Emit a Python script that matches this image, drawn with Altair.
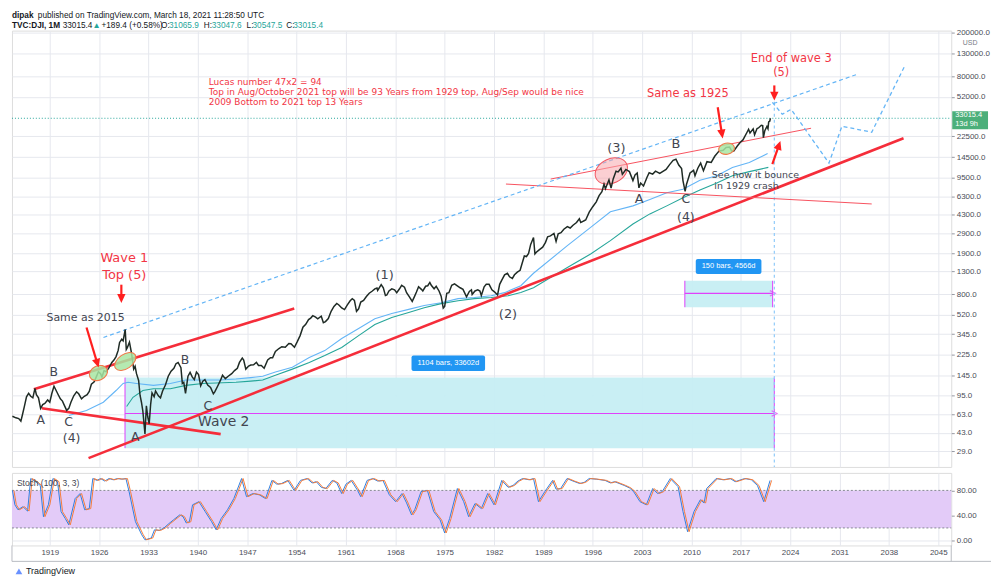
import altair as alt
import pandas as pd

# ---------------- values ----------------
# monthly DJI (year, price) – approximate closes / swing extremes
dji = [
    (1913.7, 61), (1914.2, 59), (1914.6, 58), (1914.9, 55), (1915.1, 62), (1915.4, 75), (1915.7, 92),
    (1916.0, 99), (1916.3, 93), (1916.6, 90), (1916.9, 110), (1917.1, 96), (1917.4, 90), (1917.7, 72),
    (1918.0, 78), (1918.3, 80), (1918.7, 86), (1919.0, 82), (1919.3, 99), (1919.6, 115), (1919.9, 105),
    (1920.2, 96), (1920.5, 88), (1920.8, 84), (1921.1, 76), (1921.4, 69), (1921.7, 72), (1922.0, 82),
    (1922.4, 94), (1922.8, 102), (1923.1, 98), (1923.5, 88), (1923.9, 93), (1924.3, 96), (1924.6, 103),
    (1924.9, 120), (1925.3, 126), (1925.6, 140), (1925.9, 156), (1926.2, 150), (1926.4, 140), (1926.7, 160),
    (1927.0, 156), (1927.4, 170), (1927.8, 190), (1928.1, 200), (1928.4, 215), (1928.7, 245), (1928.9, 290),
    (1929.2, 310), (1929.4, 300), (1929.7, 381), (1929.85, 250), (1930.0, 260), (1930.3, 291), (1930.6, 230),
    (1930.9, 165), (1931.1, 175), (1931.3, 150), (1931.6, 130), (1931.8, 95), (1932.0, 82), (1932.2, 68),
    (1932.5, 42), (1932.7, 76), (1932.9, 60), (1933.1, 52), (1933.3, 78), (1933.5, 100), (1933.8, 92),
    (1934.0, 104), (1934.4, 94), (1934.7, 90), (1935.0, 104), (1935.4, 118), (1935.8, 142), (1936.2, 158),
    (1936.6, 168), (1936.9, 185), (1937.2, 190), (1937.6, 170), (1937.8, 122), (1938.0, 125), (1938.25, 99),
    (1938.6, 142), (1938.9, 154), (1939.2, 140), (1939.5, 132), (1939.8, 155), (1940.1, 147), (1940.4, 116),
    (1940.7, 128), (1941.0, 132), (1941.4, 118), (1941.8, 112), (1942.2, 98), (1942.4, 102), (1942.8, 115),
    (1943.2, 130), (1943.5, 145), (1943.9, 135), (1944.3, 142), (1944.8, 150), (1945.2, 160), (1945.6, 168),
    (1945.9, 190), (1946.3, 208), (1946.5, 200), (1946.8, 165), (1947.2, 176), (1947.5, 180), (1947.9, 181),
    (1948.3, 190), (1948.6, 178), (1949.0, 178), (1949.4, 168), (1949.9, 200), (1950.3, 210), (1950.6, 210),
    (1951.0, 240), (1951.5, 255), (1951.9, 265), (1952.4, 262), (1952.9, 283), (1953.2, 282), (1953.7, 262),
    (1954.1, 295), (1954.5, 335), (1954.9, 400), (1955.3, 425), (1955.7, 470), (1956.0, 485), (1956.3, 510),
    (1956.7, 495), (1957.0, 478), (1957.5, 505), (1957.8, 440), (1958.1, 450), (1958.5, 480), (1958.9, 560),
    (1959.3, 620), (1959.7, 660), (1960.0, 640), (1960.4, 600), (1960.8, 580), (1961.2, 640), (1961.6, 700),
    (1961.9, 730), (1962.2, 705), (1962.5, 560), (1962.8, 590), (1963.1, 680), (1963.5, 705), (1963.9, 765),
    (1964.3, 820), (1964.7, 855), (1965.1, 900), (1965.4, 915), (1965.5, 870), (1966.0, 985), (1966.3, 920),
    (1966.6, 780), (1966.8, 790), (1967.1, 860), (1967.5, 900), (1967.9, 880), (1968.2, 830), (1968.6, 900),
    (1968.9, 970), (1969.3, 930), (1969.6, 830), (1970.0, 760), (1970.4, 690), (1970.7, 760), (1971.0, 840),
    (1971.3, 940), (1971.7, 890), (1971.9, 860), (1972.3, 950), (1972.6, 960), (1972.9, 1030), (1973.1, 970),
    (1973.5, 900), (1973.8, 950), (1974.2, 860), (1974.5, 770), (1974.8, 600), (1975.0, 620), (1975.3, 820),
    (1975.6, 830), (1976.0, 970), (1976.4, 1000), (1976.8, 960), (1977.2, 920), (1977.6, 890), (1978.1, 760),
    (1978.5, 850), (1978.8, 880), (1978.9, 800), (1979.3, 860), (1979.7, 880), (1980.0, 860), (1980.2, 780),
    (1980.6, 940), (1980.9, 990), (1981.3, 990), (1981.7, 880), (1982.1, 840), (1982.5, 790), (1982.8, 990),
    (1983.1, 1080), (1983.5, 1210), (1983.9, 1250), (1984.2, 1160), (1984.6, 1120), (1984.9, 1210),
    (1985.3, 1280), (1985.7, 1330), (1986.0, 1550), (1986.3, 1800), (1986.6, 1780), (1986.9, 1900),
    (1987.2, 2300), (1987.6, 2660), (1987.8, 1880), (1988.0, 1950), (1988.4, 2050), (1988.9, 2170),
    (1989.3, 2400), (1989.6, 2700), (1990.0, 2750), (1990.5, 2900), (1990.8, 2450), (1991.1, 2880),
    (1991.5, 2950), (1991.9, 3170), (1992.4, 3350), (1992.8, 3250), (1993.2, 3450), (1993.7, 3650),
    (1994.1, 3950), (1994.3, 3650), (1994.9, 3830), (1995.0, 3850), (1995.5, 4550), (1996.0, 5100),
    (1996.5, 5650), (1996.9, 6450), (1997.3, 7000), (1997.6, 8200), (1997.8, 7450), (1998.3, 9000),
    (1998.6, 7550), (1998.9, 9180), (1999.3, 10800), (1999.6, 10650), (2000.0, 11500), (2000.2, 10100),
    (2000.7, 11200), (2001.2, 10700), (2001.7, 8850), (2002.0, 10000), (2002.3, 10400), (2002.55, 7600),
    (2002.8, 8400), (2003.2, 7900), (2003.7, 9500), (2004.0, 10450), (2004.5, 10150), (2004.9, 10800),
    (2005.5, 10300), (2005.9, 10700), (2006.4, 11200), (2006.9, 12400), (2007.4, 13600), (2007.8, 13900),
    (2008.2, 12300), (2008.6, 11400), (2008.8, 8800), (2009.1, 7062), (2009.3, 8200), (2009.8, 10400),
    (2010.3, 11000), (2010.5, 9800), (2010.9, 11500), (2011.3, 12800), (2011.7, 10900), (2012.2, 13200),
    (2012.8, 13000), (2013.3, 14800), (2013.9, 16500), (2014.5, 16800), (2014.9, 17800), (2015.4, 18000),
    (2015.7, 16500), (2016.0, 16500), (2016.5, 18400), (2016.9, 19800), (2017.3, 20900), (2017.9, 24700),
    (2018.1, 26150), (2018.3, 24200), (2018.75, 26400), (2018.95, 23300), (2019.3, 26600), (2019.5, 26900),
    (2019.9, 28500), (2020.1, 28250), (2020.2, 21900), (2020.4, 25400), (2020.7, 27800), (2020.85, 26500),
    (2020.95, 30600), (2021.1, 31000), (2021.2, 33015),
]

# the two long moving averages (blue, green)
ma_blue = [
    (1921.7, 62), (1924.2, 69), (1926.6, 82), (1928.4, 105), (1929.4, 122), (1930.1, 125), (1931.3, 122),
    (1933.7, 117), (1936.1, 122), (1938.3, 131), (1940.7, 131), (1943.1, 131), (1945.4, 134), (1947.5, 138),
    (1949.2, 142), (1951.0, 155), (1953.4, 172), (1955.8, 211), (1958.0, 244), (1960.4, 315), (1962.8, 389),
    (1965.1, 479), (1967.5, 534), (1969.9, 583), (1972.1, 632), (1974.5, 670), (1976.9, 732), (1979.2, 749),
    (1981.6, 777), (1983.5, 830), (1985.8, 960), (1987.6, 1250), (1992.4, 2240), (1995.7, 3300),
    (1998.5, 4580), (2001.7, 5190), (2004.1, 5940), (2006.5, 6850), (2008.8, 7380), (2011.2, 8900),
    (2013.6, 9800), (2015.8, 11650), (2018.2, 12950), (2020.8, 15700),
]
ma_green = [
    (1929.9, 75), (1930.8, 91), (1932.2, 105), (1933.7, 109), (1936.1, 109), (1938.3, 117), (1940.7, 122),
    (1945.4, 125), (1947.5, 128), (1949.2, 131), (1951.0, 145), (1953.4, 165), (1955.8, 190), (1958.0, 220),
    (1960.4, 261), (1962.8, 335), (1965.1, 423), (1967.5, 492), (1969.9, 546), (1972.1, 603), (1974.5, 658),
    (1976.9, 700), (1979.2, 732), (1981.6, 749), (1984.0, 777), (1985.8, 833), (1987.6, 920), (1992.4, 1410),
    (1995.7, 1880), (1998.5, 2490), (2001.7, 3540), (2004.1, 4380), (2006.5, 5190), (2008.8, 6160),
    (2011.2, 7250), (2013.6, 8430), (2015.8, 9800), (2018.2, 10700), (2020.9, 11700),
]

# Stoch (100, 3, 3)
stoch = [
    (1913.7, 80), (1914.05, 57), (1914.5, 49), (1915.2, 54), (1915.85, 47), (1916.3, 99), (1917.0, 94),
    (1917.65, 88), (1918.1, 38), (1918.8, 57), (1919.45, 99), (1920.1, 94), (1920.6, 46), (1921.2, 35),
    (1921.7, 25), (1922.6, 67), (1923.3, 75), (1923.95, 49), (1924.6, 51), (1925.1, 99), (1925.7, 96),
    (1926.2, 99), (1926.8, 95), (1927.4, 99), (1928.0, 97), (1928.6, 99), (1929.2, 98), (1929.8, 99),
    (1930.25, 78), (1931.15, 30), (1932.05, 9), (1932.5, 1), (1933.4, 4), (1933.85, 17), (1934.5, 16),
    (1935.2, 20), (1935.9, 27), (1936.55, 33), (1937.45, 41), (1937.9, 38), (1938.35, 28), (1938.8, 30),
    (1939.25, 57), (1940.15, 62), (1941.05, 46), (1941.95, 30), (1942.6, 17), (1943.3, 35), (1944.2, 49),
    (1945.1, 67), (1946.2, 99), (1946.9, 70), (1947.8, 75), (1948.7, 73), (1949.6, 67), (1950.5, 96),
    (1951.2, 90), (1951.85, 91), (1952.75, 96), (1953.65, 80), (1954.55, 96), (1955.5, 99), (1956.2, 92),
    (1956.8, 94), (1957.5, 85), (1958.15, 83), (1959.05, 96), (1959.7, 92), (1960.4, 75), (1961.0, 90),
    (1961.75, 96), (1962.65, 80), (1963.1, 70), (1964.0, 96), (1964.8, 99), (1965.5, 95), (1966.25, 96),
    (1967.15, 73), (1968.05, 62), (1968.95, 75), (1969.6, 60), (1970.3, 41), (1970.75, 49), (1971.65, 78),
    (1972.55, 80), (1973.45, 46), (1974.35, 33), (1975.0, 12), (1975.7, 35), (1976.8, 83), (1977.7, 62),
    (1978.4, 38), (1979.3, 59), (1980.2, 51), (1981.1, 75), (1982.0, 57), (1983.1, 96), (1984.0, 85),
    (1984.7, 88), (1985.4, 95), (1986.05, 99), (1987.0, 97), (1987.6, 99), (1988.3, 62), (1989.2, 78),
    (1990.3, 96), (1990.8, 82), (1991.45, 83), (1992.35, 99), (1993.2, 95), (1994.15, 91), (1994.8, 93),
    (1995.5, 99), (1996.5, 98), (1997.75, 96), (1998.5, 92), (1999.1, 94), (2000.45, 88), (2001.2, 84),
    (2001.8, 78), (2002.7, 62), (2003.6, 57), (2004.5, 83), (2005.2, 75), (2005.85, 78), (2007.0, 99),
    (2008.1, 86), (2008.8, 46), (2009.45, 14), (2010.35, 46), (2011.25, 65), (2011.8, 60), (2012.15, 83),
    (2013.5, 99), (2014.5, 97), (2015.5, 99), (2016.2, 94), (2017.55, 99), (2018.5, 97), (2019.35, 88),
    (2020.25, 62), (2021.15, 96),
]

year_ticks = list(range(1919, 2046, 7))
price_ticks = [29, 43, 63, 95, 145, 225, 345, 520, 800, 1300, 1900, 2900, 4300, 6300, 9500,
               14500, 22500, 52000, 80000, 130000, 200000]
stoch_ticks = [0, 40, 80]
last_price = 33015.4

# drawings (year, price) pairs
thick_red = [(1924.50, 25.2, 2040.07, 21675), (1916.74, 107.8, 1953.67, 592.8), (1917.87, 72.2, 1943.24, 41.8)]
thin_red = [(1990.04, 9148, 2026.96, 26750), (1983.69, 8230, 2035.56, 5403)]
blue_dash = [(1926.61, 322, 2033.45, 83370)]
projection = [(2021.47, 46260), (2022.88, 35940), (2024.14, 39900), (2029.50, 12810),
              (2031.33, 27900), (2035.56, 24580), (2040.35, 102900)]
ranges = [(1929.67, 2021.75, 31.1, 138.0, 64.6), (2009.06, 2021.51, 610, 1067, 818)]
range_boxes = [(1970.30, 1980.73, 158.7, 220.4, 1975.52, 186.2, "1104 bars, 33602d"),
               (2010.61, 2019.92, 1229, 1686, 2015.26, 1442, "150 bars, 4566d")]
ellipses = [(1925.9, 152, 19, 0.75, 335, "g"), (1929.71, 194, 24, 0.6, 325, "g"),
            (2014.98, 17370, 16, 0.7, 350, "g"), (1998.63, 10850, 34, 0.72, 335, "r")]
arrows = [(1929.15, 982, 1929.15, 745, 180), (1924.21, 397.6, 1925.71, 189.4, 163),
          (2013.72, 41690, 2014.31, 24030, 171), (2021.75, 66100, 2021.75, 53570, 180),
          (2021.47, 12540, 2022.37, 18430, 19)]
labels_center = [
    ("Wave 1", 1929.57, 1734, "#f23645", 13), ("Top (5)", 1929.57, 1212, "#f23645", 13),
    ("Same as 2015", 1924.07, 490, "#434651", 11), ("B", 1919.56, 154, "#434651", 12.5),
    ("A", 1917.73, 56.1, "#434651", 12.5), ("C", 1921.68, 54.0, "#434651", 12.5),
    ("(4)", 1922.10, 38.8, "#434651", 12.5), ("A", 1931.12, 39.2, "#434651", 12.5),
    ("B", 1938.17, 198.4, "#434651", 12.5), ("C", 1941.41, 75.4, "#434651", 12.5),
    ("Wave 2", 1943.67, 53.8, "#434651", 14), ("(1)", 1966.5, 1212, "#434651", 13),
    ("(2)", 1983.98, 533, "#434651", 13), ("(3)", 1999.34, 17560, "#434651", 13),
    ("B", 2007.8, 19100, "#434651", 13), ("A", 2002.58, 6000, "#434651", 13),
    ("C", 2009.2, 5950, "#434651", 12.5), ("(4)", 2009.2, 4100, "#434651", 12.5),
    ("Same as 1925", 2009.49, 54700, "#f23645", 11.5), ("End of wave 3", 2024.14, 114300, "#f23645", 11.5),
    ("(5)", 2022.73, 85100, "#f23645", 11.5), ("See how it bounce", 2019.07, 9950, "#434651", 9.5),
    ("in 1929 crash", 2017.80, 7890, "#434651", 9.5),
]
labels_left = [
    ("Lucas number 47x2 = 94", 1941.55, 70450),
    ("Top in Aug/October 2021 top will be 93 Years from 1929 top, Aug/Sep would be nice", 1941.55, 57070),
    ("2009 Bottom to 2021 top 13 Years", 1941.55, 46250),
]

# ---------------- chart ----------------
W, H_MAIN, H_STOCH = 945, 439, 73
xs = alt.Scale(domain=[1913.64, 2046.84], nice=False, zero=False)
ys = alt.Scale(type="log", domain=[20.9, 210400], nice=False)
ss = alt.Scale(domain=[-8, 108], nice=False, zero=False)
GRID = "#e6e8ee"
RED = "#f52d3a"
AXC = "#4a4d57"

grid_axis_x = alt.Axis(values=year_ticks, labels=False, ticks=False, domain=False, grid=True,
                       gridColor=GRID, title=None)
price_axis = alt.Axis(orient="right", values=price_ticks, format=".1f", grid=True, gridColor=GRID,
                      tickSize=3, tickColor="#9598a1", labelFontSize=8, labelFont="Liberation Sans",
                      labelColor=AXC, labelPadding=2, domain=False, title=None)
stoch_x_axis = alt.Axis(values=year_ticks, format="d", grid=True, gridColor=GRID, ticks=False, domain=False,
                        labelFontSize=8, labelFont="Liberation Sans", labelColor=AXC, labelPadding=3,
                        title=None)
stoch_y_axis = alt.Axis(orient="right", values=stoch_ticks, format=".2f", grid=True, gridColor=GRID,
                        tickSize=3, tickColor="#9598a1", labelFontSize=8, labelFont="Liberation Sans",
                        labelColor=AXC, labelPadding=2, domain=False, title=None)

df_dji = pd.DataFrame(dji, columns=["year", "price"])
df_blue = pd.DataFrame(ma_blue, columns=["year", "price"])
df_green = pd.DataFrame(ma_green, columns=["year", "price"])
df_st = pd.DataFrame(stoch, columns=["year", "k"])


def seg_df(rows):
    return pd.DataFrame(rows, columns=["x1", "y1", "x2", "y2"])


def X(f="x1"):
    return alt.X(f"{f}:Q", scale=xs, axis=grid_axis_x)


def Y(f="y1"):
    return alt.Y(f"{f}:Q", scale=ys, axis=price_axis)


rng = pd.DataFrame(ranges, columns=["x1", "x2", "y1", "y2", "ya"])
rect_layer = alt.Chart(rng).mark_rect(color="#c6eef3", opacity=0.95).encode(
    x=X("x1"), x2="x2", y=Y("y1"), y2="y2")
mag_v1 = alt.Chart(rng).mark_rule(color="#e040fb", strokeWidth=1).encode(x=X("x1"), y=Y("y1"), y2="y2")
mag_v2 = alt.Chart(rng).mark_rule(color="#e040fb", strokeWidth=1).encode(x=X("x2"), y=Y("y1"), y2="y2")
mag_h = alt.Chart(rng).mark_rule(color="#e040fb", strokeWidth=1.2).encode(x=X("x1"), x2="x2", y=Y("ya"))
mag_head = alt.Chart(rng).mark_point(shape="M-1,-1L1,0L-1,1", size=30, color="#e040fb",
                                     strokeWidth=1.2, filled=False).encode(x=X("x2"), y=Y("ya"))

vdash = alt.Chart(pd.DataFrame({"x1": [2021.75], "y1": [46800], "y2": [20.9]})).mark_rule(
    color="#90caf9", strokeDash=[3, 3], strokeWidth=1.2).encode(x=X("x1"), y=Y("y1"), y2="y2")
hdot = alt.Chart(pd.DataFrame({"y1": [last_price]})).mark_rule(
    color="#26a69a", strokeDash=[1, 2], strokeWidth=1).encode(x=alt.value(0), x2=alt.value(W), y=Y("y1"))

blue_line = alt.Chart(df_blue).mark_line(color="#64b5f6", strokeWidth=1.1).encode(x=X("year"), y=Y("price"))
green_line = alt.Chart(df_green).mark_line(color="#26a69a", strokeWidth=1.1).encode(x=X("year"), y=Y("price"))
price_line = alt.Chart(df_dji).mark_line(color="#1f2b25", strokeWidth=1.5).encode(x=X("year"), y=Y("price"))

thick = alt.Chart(seg_df(thick_red)).mark_rule(color=RED, strokeWidth=2.6).encode(
    x=X("x1"), y=Y("y1"), x2="x2", y2="y2")
thin = alt.Chart(seg_df(thin_red)).mark_rule(color="#f7525f", strokeWidth=1).encode(
    x=X("x1"), y=Y("y1"), x2="x2", y2="y2")
bdash = alt.Chart(seg_df(blue_dash)).mark_rule(color="#64b5f6", strokeWidth=1.2, strokeDash=[4, 3]).encode(
    x=X("x1"), y=Y("y1"), x2="x2", y2="y2")
proj = alt.Chart(pd.DataFrame(projection, columns=["year", "price"]).assign(o=range(len(projection)))).mark_line(
    color="#64b5f6", strokeWidth=1.3, strokeDash=[4, 3]).encode(x=X("year"), y=Y("price"), order="o:Q")

ell = pd.DataFrame(ellipses, columns=["x1", "y1", "w", "r", "ang", "kind"])
ell["shape"] = ell["r"].map(lambda r: f"M-1,0A1,{r} 0 1,0 1,0A1,{r} 0 1,0 -1,0Z")
ell["size"] = (ell["w"] / 2) ** 2 * 4
ell_g = alt.Chart(ell[ell.kind == "g"]).mark_point(filled=True, fill="#a8e6a3", fillOpacity=0.85,
                                                  stroke="#f2794a", strokeWidth=1.1).encode(
    x=X("x1"), y=Y("y1"), shape=alt.Shape("shape:N", scale=None), size=alt.Size("size:Q", scale=None),
    angle=alt.Angle("ang:Q", scale=None))
ell_r = alt.Chart(ell[ell.kind == "r"]).mark_point(filled=True, fill="#f7a8ad", fillOpacity=0.55,
                                                  stroke="#f2545f", strokeWidth=1).encode(
    x=X("x1"), y=Y("y1"), shape=alt.Shape("shape:N", scale=None), size=alt.Size("size:Q", scale=None),
    angle=alt.Angle("ang:Q", scale=None))

arr = pd.DataFrame(arrows, columns=["x1", "y1", "x2", "y2", "ang"])
arr_shaft = alt.Chart(arr).mark_rule(color="#ff1f1f", strokeWidth=2.2).encode(
    x=X("x1"), y=Y("y1"), x2="x2", y2="y2")
arr_head = alt.Chart(arr).mark_point(shape="M0,-1L0.8,0.7L-0.8,0.7Z", size=110, filled=True,
                                     color="#ff1f1f", opacity=1).encode(
    x=X("x2"), y=Y("y2"), angle=alt.Angle("ang:Q", scale=None))

box = pd.DataFrame(range_boxes, columns=["x1", "x2", "y1", "y2", "tx", "ty", "t"])
box_rect = alt.Chart(box).mark_rect(color="#2196f3", cornerRadius=2).encode(x=X("x1"), x2="x2", y=Y("y1"), y2="y2")
box_text = alt.Chart(box).mark_text(color="white", fontSize=7.5, font="Liberation Sans").encode(
    x=X("tx"), y=Y("ty"), text="t:N")

lc = pd.DataFrame(labels_center, columns=["t", "x1", "y1", "c", "s"])
txt_c = alt.Chart(lc).mark_text(font="DejaVu Sans", baseline="middle").encode(
    x=X("x1"), y=Y("y1"), text="t:N", color=alt.Color("c:N", scale=None), size=alt.Size("s:Q", scale=None))
ll = pd.DataFrame(labels_left, columns=["t", "x1", "y1"])
txt_l = alt.Chart(ll).mark_text(font="DejaVu Sans", fontSize=9, align="left", baseline="middle",
                                color="#f23645").encode(x=X("x1"), y=Y("y1"), text="t:N")

# price tag on the axis
tag = pd.DataFrame({"y1": [38300], "y2": [26220]})
tag_rect = alt.Chart(tag).mark_rect(color="#4caf7a").encode(x=alt.value(W + 1), x2=alt.value(W + 37), y=Y("y1"), y2="y2")
tag_txt = alt.Chart(pd.DataFrame({"y1": [35200, 29150], "t": ["33015.4", "13d 9h"]})).mark_text(
    color="white", fontSize=7.5, font="Liberation Sans", align="left").encode(
    x=alt.value(W + 4), y=Y("y1"), text="t:N")
dummy = pd.DataFrame({"d": [0]})
usd = alt.Chart(dummy).mark_text(text="USD", fontSize=7, color="#787b86", font="Liberation Sans").encode(
    x=alt.value(W + 19), y=alt.value(12))

# header lines
header = [
    ("dipak", 0, -20, "#131722", "bold"),
    ("published on TradingView.com, March 18, 2021 11:28:50 UTC", 26, -20, "#131722", "normal"),
    ("TVC:DJI, 1M", 0, -10, "#131722", "bold"),
    ("33015.4", 51, -10, "#131722", "normal"),
    ("\u25b2", 81, -10, "#26a69a", "normal"),
    ("+189.4 (+0.58%)", 90, -10, "#131722", "normal"),
    ("O:", 150, -10, "#131722", "normal"),
    ("31065.9", 158, -10, "#26a69a", "normal"),
    ("H:", 193, -10, "#131722", "normal"),
    ("33047.6", 201, -10, "#26a69a", "normal"),
    ("L:", 236, -10, "#131722", "normal"),
    ("30547.5", 242, -10, "#26a69a", "normal"),
    ("C:", 276, -10, "#131722", "normal"),
    ("33015.4", 283, -10, "#26a69a", "normal"),
]
head_layers = [
    alt.Chart(dummy).mark_text(text=t, align="left", baseline="top", fontSize=8.3, font="Liberation Sans",
                               color=c, fontWeight=fw).encode(x=alt.value(px), y=alt.value(py))
    for t, px, py, c, fw in header
]

main = alt.layer(
    rect_layer, mag_v1, mag_v2, mag_h, mag_head, vdash, hdot,
    blue_line, green_line, thick, thin, bdash, proj, ell_r, price_line, ell_g,
    arr_shaft, arr_head, box_rect, box_text, txt_c, txt_l, tag_rect, tag_txt, usd, *head_layers,
).properties(width=W, height=H_MAIN)

# ---------------- stochastic panel ----------------
SX = alt.X("year:Q", scale=xs, axis=stoch_x_axis)
band = alt.Chart(pd.DataFrame({"a": [80], "b": [20]})).mark_rect(color="#e3cbf8").encode(
    x=alt.value(0), x2=alt.value(W), y=alt.Y("a:Q", scale=ss, axis=stoch_y_axis), y2="b:Q")
levels = alt.Chart(pd.DataFrame({"v": [80, 20]})).mark_rule(color="#868993", strokeDash=[2, 2], strokeWidth=1).encode(
    x=alt.value(0), x2=alt.value(W), y=alt.Y("v:Q", scale=ss, axis=stoch_y_axis))
k_line = alt.Chart(df_st).mark_line(color="#2f7fe0", strokeWidth=1).encode(
    x=SX, y=alt.Y("k:Q", scale=ss, axis=stoch_y_axis))
d_line = alt.Chart(df_st).mark_line(color="#f57c3a", strokeWidth=1, xOffset=1.5).encode(
    x=SX, y=alt.Y("k:Q", scale=ss, axis=stoch_y_axis))
st_label = alt.Chart(dummy).mark_text(text="Stoch (100, 3, 3)", align="left", baseline="middle", fontSize=8.5,
                                      font="Liberation Sans", color="#434651").encode(
    x=alt.value(5), y=alt.value(10))
frame_b = alt.Chart(dummy).mark_rule(color="#b8bbc2").encode(x=alt.value(0), x2=alt.value(W + 40), y=alt.value(89))
frame_l = alt.Chart(dummy).mark_rule(color="#b8bbc2").encode(x=alt.value(0), y=alt.value(73), y2=alt.value(89))
frame_r = alt.Chart(dummy).mark_rule(color="#b8bbc2").encode(x=alt.value(W), y=alt.value(73), y2=alt.value(89))
logo_icon = alt.Chart(dummy).mark_point(shape="triangle-up", size=45, filled=True, color="#2962ff").encode(
    x=alt.value(7), y=alt.value(99))
logo = alt.Chart(dummy).mark_text(text="TradingView", align="left", baseline="middle", fontSize=9,
                                  font="Liberation Sans", color="#131722").encode(x=alt.value(14), y=alt.value(99))

stoch_panel = alt.layer(band, levels, k_line, d_line, st_label, frame_b, frame_l, frame_r, logo_icon, logo).properties(
    width=W, height=H_STOCH)

chart = alt.vconcat(main, stoch_panel, spacing=3).properties(padding=0).configure_view(
    stroke="#b8bbc2", strokeWidth=1).configure(background="white")

chart.save("out.html", embed_options={"renderer": "svg", "actions": False})
